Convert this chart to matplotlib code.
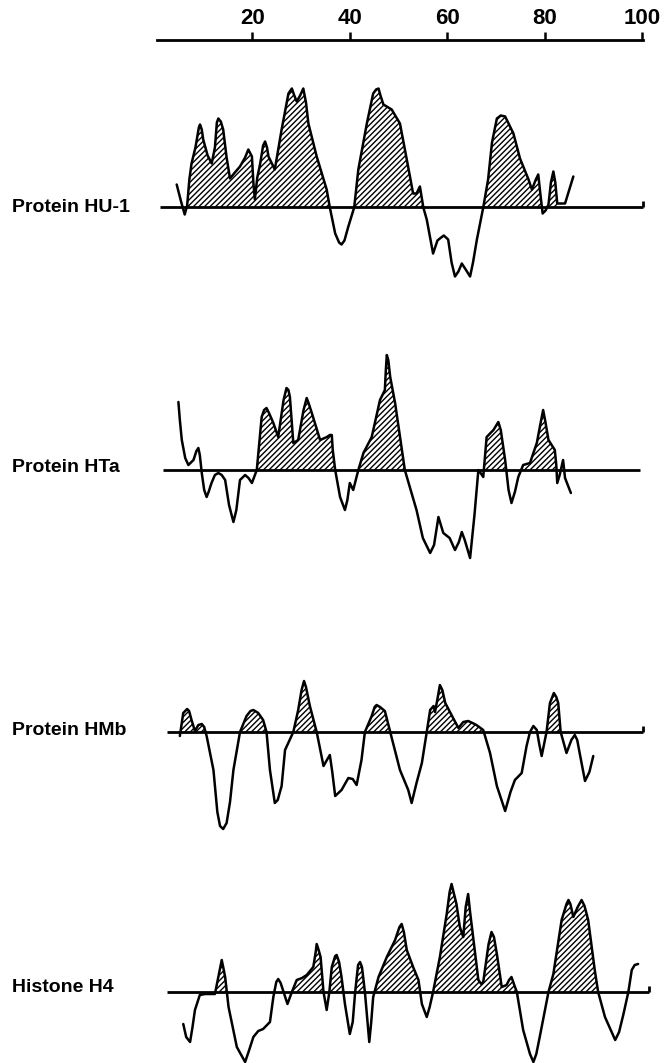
import matplotlib.pyplot as plt
import numpy as np

plt.rcParams['font.family'] = ['Liberation Sans', 'DejaVu Sans']
plt.rcParams['hatch.linewidth'] = 1.0

W, H = 668, 1063

# residue ticks on the top scale
res_ticks = [20, 40, 60, 80, 100]

# hydropathy profiles (residue number, value in arbitrary units; 0 = baseline)
hu1_res = [4.45, 5.4, 6.1, 6.6, 7.05, 7.5, 8.3, 9.0, 9.24, 9.6, 9.9, 10.8, 11.64, 12.3, 12.7, 13.0,
           13.5, 14.0, 14.7, 15.4, 16.4, 17.45, 18.5, 19.16, 19.9, 20.2, 20.5, 21.0, 21.6, 22.2, 22.6,
           23.0, 23.3, 24.6, 26.0, 27.4, 28.1, 28.6, 29.1, 29.8, 30.45, 31.0, 31.5, 33.2, 35.25, 35.9,
           37.0, 37.8, 38.3, 38.9, 39.7, 40.9, 41.75, 43.5, 44.8, 45.4, 45.9, 46.3, 46.9, 48.6, 50.3,
           51.7, 53.0, 53.7, 54.4, 55.1, 55.8, 57.1, 58.0, 58.5, 59.3, 60.2, 60.9, 61.6, 62.3, 63.0,
           63.8, 64.7, 65.3, 66.1, 67.4, 68.4, 69.2, 70.2, 71.0, 71.9, 73.6, 74.95, 76.7, 77.4, 78.2,
           78.7, 79.1, 79.6, 80.2, 80.8, 81.3, 81.8, 82.2, 82.6, 84.2, 85.9]
hu1_val = [23, 5, -7, 2, 28, 44, 60, 80, 83, 78, 68, 52, 44, 60, 85, 89,
           86, 78, 50, 29, 35, 41, 50, 58, 51, 25, 8, 30, 44, 62, 66,
           60, 51, 38, 78, 114, 119, 112, 106, 112, 119, 105, 84, 51, 18, 0,
           -26, -35, -37, -33, -19, 0, 38, 84, 114, 118, 119, 112, 103, 98, 84,
           48, 14, 14, 21, 0, -12, -46, -33, -31, -28, -32, -55, -69, -64, -56,
           -62, -69, -55, -32, 0, 28, 65, 89, 92, 91, 74, 49, 28, 18, 28,
           33, 15, -6, -3, 3, 25, 36, 25, 4, 4, 31]

hta_res = [4.8, 5.1, 5.5, 6.2, 6.85, 7.9, 8.5, 8.9, 9.2, 9.6, 10.1, 10.6, 11.0, 11.6, 12.3, 13.0,
           13.7, 14.4, 15.2, 16.1, 16.7, 17.45, 18.5, 19.2, 19.9, 20.9, 21.9, 22.4, 22.9, 23.5, 24.3,
           25.3, 26.4, 27.0, 27.4, 27.7, 28.4, 29.4, 30.5, 31.15, 31.6, 32.2, 33.9, 35.3, 35.9, 36.3,
           36.5, 37.0, 38.0, 39.0, 39.5, 40.0, 40.7, 41.75, 42.8, 44.5, 46.2, 47.2, 47.4, 47.6, 47.9,
           48.3, 49.3, 51.3, 53.7, 55.0, 56.5, 57.3, 58.2, 59.2, 60.5, 61.6, 62.4, 63.0, 63.6, 64.7,
           65.6, 66.4, 67.0, 67.4, 68.1, 69.5, 70.5, 71.0, 71.9, 72.6, 73.2, 73.9, 74.6, 75.6, 77.0,
           78.4, 79.3, 79.7, 80.1, 80.8, 82.1, 82.4, 82.6, 83.1, 83.8, 84.2, 85.4]
hta_val = [68, 50, 30, 12, 5, 10, 19, 22, 15, -3, -20, -27, -22, -13, -5, -3,
           -5, -10, -35, -52, -40, -10, -5, -8, -13, 0, 53, 60, 62, 56, 47,
           33, 70, 82, 80, 73, 27, 30, 60, 72, 66, 57, 30, 33, 35, 35,
           20, 0, -27, -40, -30, -13, -20, 0, 17, 33, 70, 80, 100, 115, 110,
           93, 67, 0, -40, -68, -83, -75, -47, -63, -68, -80, -72, -62, -70, -88,
           -45, 0, -4, -7, 33, 40, 48, 40, 10, -20, -33, -22, -7, 5, 7,
           27, 50, 60, 50, 30, 20, 5, -13, -5, 10, -8, -23]

hmb_res = [5.1, 5.8, 6.6, 7.0, 7.5, 8.2, 8.9, 9.6, 10.1, 10.6, 12.0, 12.8, 13.35, 14.0, 14.7, 15.4,
           16.1, 17.45, 18.8, 19.6, 20.2, 21.2, 22.2, 22.9, 23.6, 24.6, 25.2, 26.0, 26.7, 28.4, 29.4,
           30.1, 30.6, 31.0, 31.8, 33.2, 34.6, 35.3, 35.9, 36.4, 37.0, 38.3, 39.7, 40.6, 41.4, 42.4,
           43.1, 44.5, 45.1, 45.5, 46.2, 47.2, 48.3, 50.3, 52.0, 52.7, 53.7, 54.8, 55.8, 56.5, 57.2,
           57.5, 58.0, 58.5, 59.0, 59.6, 61.0, 62.3, 63.3, 64.3, 65.2, 66.0, 67.4, 68.8, 70.2, 71.9,
           73.0, 73.9, 75.3, 76.3, 77.0, 77.7, 78.4, 78.9, 79.4, 80.4, 81.1, 81.9, 82.4, 82.8, 83.3,
           84.5, 85.5, 86.2, 86.7, 87.2, 88.3, 89.2, 90.0]
hmb_val = [-4, 19, 23, 21, 12, 1, 7, 8, 5, -4, -38, -80, -94, -97, -91, -70,
           -38, 0, 16, 21, 22, 19, 12, 0, -38, -71, -68, -54, -18, 0, 22,
           42, 51, 45, 26, 0, -34, -28, -23, -40, -64, -58, -46, -47, -53, -28,
           0, 16, 25, 27, 25, 21, 0, -38, -58, -71, -51, -31, 0, 22, 26,
           20, 33, 47, 42, 29, 16, 4, 10, 11, 9, 7, 2, -21, -54, -79,
           -60, -48, -41, -14, 0, 6, 2, -12, -24, 0, 29, 39, 35, 29, 0,
           -21, -8, -3, -8, -21, -49, -40, -24]

h4_res = [5.8, 6.4, 7.2, 7.7, 8.2, 9.2, 10.3, 12.3, 13.0, 13.7, 14.0, 14.4, 15.1, 16.8, 18.5, 19.2,
          20.2, 21.2, 22.2, 23.6, 24.3, 24.9, 25.3, 25.8, 26.4, 27.2, 28.1, 29.1, 30.2, 31.15, 32.5,
          33.0, 33.2, 33.6, 34.0, 34.6, 35.25, 35.8, 36.3, 37.0, 37.3, 37.8, 38.3, 39.0, 40.0, 40.6,
          41.1, 41.7, 42.1, 42.5, 43.1, 44.0, 44.4, 44.8, 45.9, 47.6, 49.3, 50.2, 50.65, 51.1, 51.7,
          53.0, 54.1, 54.8, 55.8, 56.4, 57.1, 58.5, 59.9, 60.5, 60.9, 61.3, 61.9, 62.6, 63.3, 63.8,
          64.3, 64.7, 65.4, 66.4, 67.0, 67.4, 68.5, 69.1, 69.6, 70.2, 71.2, 72.2, 72.7, 73.2, 73.7,
          74.3, 75.6, 77.0, 77.7, 78.3, 79.0, 80.8, 81.8, 83.5, 84.5, 84.9, 85.3, 85.9, 86.8, 87.6,
          88.2, 88.95, 90.3, 91.0, 92.4, 94.5, 95.3, 96.2, 97.2, 97.9, 98.5, 99.2]
h4_val = [-32, -45, -50, -35, -18, -3, -2, -2, 15, 32, 25, 15, -15, -55, -70, -60,
          -45, -39, -37, -30, -5, 10, 13, 9, 0, -12, 0, 12, 14, 17, 25,
          40, 48, 42, 35, 0, -18, 0, 25, 36, 37, 30, 15, -12, -42, -30,
          0, 27, 30, 25, 0, -50, -30, -5, 15, 35, 52, 65, 68, 60, 42,
          25, 12, -12, -25, -15, 0, 35, 78, 100, 108, 100, 88, 65, 55, 85,
          98, 80, 52, 12, 8, 10, 48, 60, 55, 38, 5, 7, 12, 15, 8,
          0, -38, -62, -70, -62, -45, 0, 18, 72, 88, 92, 88, 75, 85, 92,
          86, 72, 22, 0, -25, -48, -40, -22, 0, 22, 27, 28]

# residue ranges whose positive part is hatched in the original
hu1_hatch = [(6.5, 83.0)]
hta_hatch = [(20.5, 83.0)]
hmb_hatch = [(5.0, 76.0), (80.0, 84.0)]
h4_hatch = [(12.5, 14.8), (27.5, 91.5)]

labels = ["Protein HU-1", "Protein HTa", "Protein HMb", "Histone H4"]
series = [(hu1_res, hu1_val, hu1_hatch), (hta_res, hta_val, hta_hatch),
          (hmb_res, hmb_val, hmb_hatch), (h4_res, h4_val, h4_hatch)]

# layout in pixels: baseline y, (ylim low, high), baseline extent, label baseline y
baselines = [207.5, 470, 732, 992]
ylims = [(-80, 130), (-100, 125), (-105, 60), (-85, 120)]
line_extent = [(1.0, 100.2), (1.6, 99.5), (2.5, 100.2), (2.5, 101.5)]
end_tick = [True, False, True, True]
label_y = [212, 472, 735, 992]

XLIM = (-1.03, 103.7)
AX_LEFT, AX_W = 150 / W, 510 / W

fig = plt.figure(figsize=(W / 100, H / 100), dpi=100)

# top residue scale
top = fig.add_axes([AX_LEFT, 1 - 50 / H, AX_W, 10 / H])
top.set_xlim(*XLIM)
top.set_ylim(0, 1)
for s in ['left', 'right', 'bottom']:
    top.spines[s].set_visible(False)
top.spines['top'].set_linewidth(2)
top.spines['top'].set_bounds(0.4, 100.2)
top.set_yticks([])
top.xaxis.tick_top()
top.set_xticks(res_ticks)
top.set_xticklabels([str(t) for t in res_ticks], fontsize=16, fontweight='bold')
top.tick_params(axis='x', direction='out', length=6, width=1.8, pad=2)
top.patch.set_alpha(0)

for i, (res, val, hatch_ranges) in enumerate(series):
    b = baselines[i]
    lo, hi = ylims[i]
    ax = fig.add_axes([AX_LEFT, 1 - (b - lo) / H, AX_W, (hi - lo) / H])
    ax.set_xlim(*XLIM)
    ax.set_ylim(lo, hi)
    ax.axis('off')
    r = np.array(res)
    v = np.array(val, dtype=float)
    inside = np.zeros(len(r), dtype=bool)
    for a, z in hatch_ranges:
        inside |= (r >= a) & (r <= z)
    ax.fill_between(r, v, 0, where=(v >= 0) & inside, interpolate=True, facecolor='none',
                    edgecolor='black', hatch='//////', linewidth=0)
    x0, x1 = line_extent[i]
    ax.hlines(0, x0, x1, color='black', linewidth=2)
    if end_tick[i]:
        ax.vlines(x1, 0, 6, color='black', linewidth=2)
    ax.plot(r, v, color='black', linewidth=1.8, solid_joinstyle='round', solid_capstyle='round')
    fig.text(12 / W, 1 - label_y[i] / H, labels[i], fontsize=14, fontweight='bold',
             ha='left', va='baseline')

fig.savefig('out.png', dpi=100, facecolor='white')
